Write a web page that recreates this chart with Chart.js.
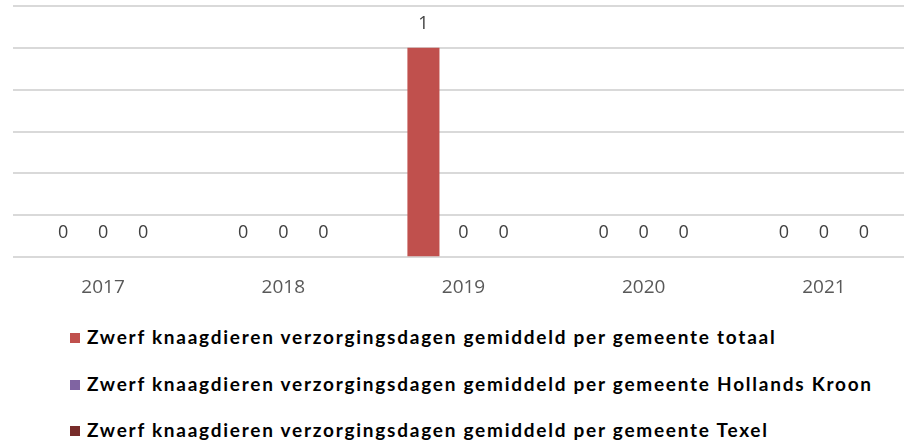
<!DOCTYPE html>
<html>
<head>
<meta charset="utf-8">
<script src="https://cdn.jsdelivr.net/npm/chart.js@4"></script>
<style>
  html, body { margin: 0; padding: 0; background: #fff; overflow: hidden; width: 904px; height: 441px; }
  #wrap { position: relative; width: 904px; height: 441px; }
  #chart { position: absolute; left: 0; top: 0; }
  #legend { position: absolute; left: 70px; top: 322px; font-family: Lato, sans-serif; font-weight: bold; font-size: 19px; letter-spacing: 1.75px; color: #000; }
  .item { height: 46.5px; line-height: 30px; white-space: nowrap; }
  .sw { display: inline-block; width: 10px; height: 10px; margin-right: 7px; vertical-align: 1px; }
</style>
</head>
<body>
<div id="wrap">
  <canvas id="chart" width="920" height="310"></canvas>
  <div id="legend"></div>
</div>
<script>
(() => {
  "use strict";

  // data
  const years = ['2017', '2018', '2019', '2020', '2021'];
  const totaal = [0, 0, 1, 0, 0];
  const hollandsKroon = [0, 0, 0, 0, 0];
  const texel = [0, 0, 0, 0, 0];
  const seriesNames = [
    'Zwerf knaagdieren verzorgingsdagen gemiddeld per gemeente totaal',
    'Zwerf knaagdieren verzorgingsdagen gemiddeld per gemeente Hollands Kroon',
    'Zwerf knaagdieren verzorgingsdagen gemiddeld per gemeente Texel'
  ];
  const colors = ['#C0504D', '#8064A2', '#772C2A'];

  // value labels above every bar
  const barLabels = {
    id: 'barLabels',
    afterDatasetsDraw(chart) {
      const c = chart.ctx;
      c.save();
      c.font = '18px "Open Sans", sans-serif';
      c.fillStyle = '#404040';
      c.textAlign = 'center';
      c.textBaseline = 'middle';
      chart.data.datasets.forEach((ds, i) => {
        chart.getDatasetMeta(i).data.forEach((bar, j) => {
          c.fillText(String(ds.data[j]), bar.x, bar.y - 24);
        });
      });
      c.restore();
    }
  };

  const ctx = document.getElementById('chart');
  new Chart(ctx, {
    type: 'bar',
    data: {
      labels: years,
      datasets: [totaal, hollandsKroon, texel].map((d, i) => ({
        label: seriesNames[i],
        data: d,
        backgroundColor: colors[i],
        categoryPercentage: 0.667,
        barPercentage: 0.8
      }))
    },
    options: {
      responsive: false,
      animation: false,
      layout: { padding: { top: 6, left: 13, right: 6, bottom: 0 } },
      plugins: {
        legend: { display: false },
        tooltip: { enabled: false }
      },
      scales: {
        x: {
          grid: { display: false },
          border: { display: false },
          ticks: {
            color: '#595959',
            font: { family: '"Open Sans", sans-serif', size: 19 },
            padding: 11
          }
        },
        y: {
          min: 0,
          max: 1.2,
          ticks: { display: false, stepSize: 0.2 },
          border: { display: false },
          grid: { color: '#D9D9D9', lineWidth: 2, drawTicks: false }
        }
      }
    },
    plugins: [barLabels]
  });

  // legend, one series per line
  const legend = document.getElementById('legend');
  seriesNames.forEach((name, i) => {
    const row = document.createElement('div');
    row.className = 'item';
    row.innerHTML = '<span class="sw" style="background:' + colors[i] + '"></span>' + name;
    legend.appendChild(row);
  });
})();
</script>
</body>
</html>
